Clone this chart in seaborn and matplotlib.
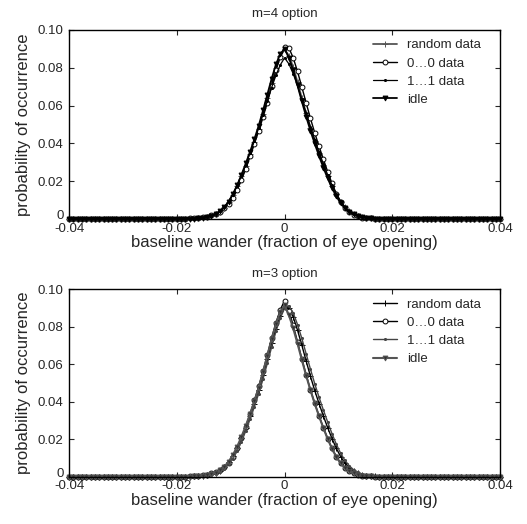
import numpy as np
import pandas as pd
import seaborn as sns
import matplotlib.pyplot as plt
import matplotlib.transforms as mtransforms

# bin centres of the baseline wander histogram
wander = np.round(np.linspace(-0.04, 0.04, 101), 4)

series_names = ["random data", "0\u20260 data", "1\u20261 data", "idle"]
x_ticks = [-0.04, -0.02, 0, 0.02, 0.04]
x_tick_labels = ["-0.04", "-0.02", "0", "0.02", "0.04"]
y_ticks = [0, 0.02, 0.04, 0.06, 0.08, 0.10]
y_tick_labels = ["0", "0.02", "0.04", "0.06", "0.08", "0.10"]

# m=4 option
m4_random = [
    0, 0, 0, 0, 0, 0, 0, 0, 0, 0, 0, 0, 0, 0, 0, 0, 0, 0, 0, 0, 0, 0, 0, 0, 0, 0, 0, 0,
    .0001, .0002, .0004, .0006, .0010, .0016, .0025, .0039, .0060, .0089, .0127,
    .0173, .0225, .0282, .0343, .0408, .0478, .0555, .0638, .0721, .0799, .0860,
    .0897,
    .0864, .0802, .0724, .0640, .0558, .0482, .0412, .0347, .0286, .0228, .0176,
    .0130, .0091, .0062, .0041, .0027, .0016, .0010, .0006, .0004, .0002, .0001,
    0, 0, 0, 0, 0, 0, 0, 0, 0, 0, 0, 0, 0, 0, 0, 0, 0, 0, 0, 0, 0, 0, 0, 0, 0, 0, 0, 0]
m4_zeros = [
    0, 0, 0, 0, 0, 0, 0, 0, 0, 0, 0, 0, 0, 0, 0, 0, 0, 0, 0, 0, 0, 0, 0, 0, 0, 0, 0, 0,
    .0003, .0004, .0006, .0009, .0013, .0019, .0027, .0039, .0056, .0080, .0112,
    .0154, .0206, .0266, .0331, .0398, .0466, .0538, .0616, .0702, .0786, .0858,
    .0910,
    .0905, .0852, .0780, .0698, .0614, .0532, .0455, .0384, .0316, .0250, .0188,
    .0134, .0092, .0060, .0038, .0023, .0014, .0008, .0005, .0003, .0002, .0001,
    0, 0, 0, 0, 0, 0, 0, 0, 0, 0, 0, 0, 0, 0, 0, 0, 0, 0, 0, 0, 0, 0, 0, 0, 0, 0, 0, 0]
m4_ones = [
    0, 0, 0, 0, 0, 0, 0, 0, 0, 0, 0, 0, 0, 0, 0, 0, 0, 0, 0, 0, 0, 0, 0, 0, 0, 0, 0, 0,
    .0001, .0002, .0004, .0006, .0010, .0016, .0026, .0041, .0062, .0092, .0131,
    .0178, .0231, .0288, .0350, .0414, .0482, .0552, .0624, .0695, .0760, .0815,
    .0852,
    .0820, .0768, .0704, .0632, .0560, .0488, .0420, .0354, .0292, .0234, .0180,
    .0133, .0094, .0064, .0042, .0027, .0017, .0011, .0007, .0004, .0002, .0001,
    0, 0, 0, 0, 0, 0, 0, 0, 0, 0, 0, 0, 0, 0, 0, 0, 0, 0, 0, 0, 0, 0, 0, 0, 0, 0, 0, 0]
m4_idle = [
    0, 0, 0, 0, 0, 0, 0, 0, 0, 0, 0, 0, 0, 0, 0, 0, 0, 0, 0, 0, 0, 0, 0, 0, 0, 0, 0, 0,
    .0001, .0002, .0004, .0006, .0010, .0016, .0026, .0040, .0062, .0092, .0131,
    .0179, .0234, .0294, .0356, .0422, .0494, .0574, .0658, .0742, .0818, .0872,
    .0900,
    .0852, .0786, .0706, .0622, .0542, .0467, .0398, .0333, .0272, .0215, .0164,
    .0120, .0084, .0057, .0037, .0024, .0015, .0009, .0005, .0003, .0002, .0001,
    0, 0, 0, 0, 0, 0, 0, 0, 0, 0, 0, 0, 0, 0, 0, 0, 0, 0, 0, 0, 0, 0, 0, 0, 0, 0, 0, 0]

# m=3 option
m3_random = [
    0, 0, 0, 0, 0, 0, 0, 0, 0, 0, 0, 0, 0, 0, 0, 0, 0, 0, 0, 0, 0, 0, 0, 0, 0, 0, 0, 0,
    .0001, .0002, .0003, .0005, .0008, .0013, .0021, .0033, .0051, .0077, .0111,
    .0154, .0205, .0262, .0324, .0390, .0462, .0541, .0626, .0712, .0790, .0858,
    .0905,
    .0900, .0852, .0782, .0702, .0618, .0536, .0460, .0390, .0324, .0262, .0204,
    .0152, .0108, .0074, .0049, .0032, .0020, .0012, .0007, .0004, .0002, .0001,
    0, 0, 0, 0, 0, 0, 0, 0, 0, 0, 0, 0, 0, 0, 0, 0, 0, 0, 0, 0, 0, 0, 0, 0, 0, 0, 0, 0]
m3_zeros = [
    0, 0, 0, 0, 0, 0, 0, 0, 0, 0, 0, 0, 0, 0, 0, 0, 0, 0, 0, 0, 0, 0, 0, 0, 0, 0, 0, 0,
    .0002, .0003, .0005, .0008, .0012, .0018, .0026, .0037, .0053, .0076, .0108,
    .0152, .0206, .0268, .0336, .0408, .0482, .0563, .0650, .0740, .0822, .0890,
    .0940,
    .0885, .0808, .0720, .0630, .0544, .0464, .0392, .0324, .0262, .0204, .0152,
    .0108, .0074, .0049, .0032, .0020, .0012, .0007, .0004, .0002, .0001, .0001,
    0, 0, 0, 0, 0, 0, 0, 0, 0, 0, 0, 0, 0, 0, 0, 0, 0, 0, 0, 0, 0, 0, 0, 0, 0, 0, 0, 0]
m3_ones = [
    0, 0, 0, 0, 0, 0, 0, 0, 0, 0, 0, 0, 0, 0, 0, 0, 0, 0, 0, 0, 0, 0, 0, 0, 0, 0, 0, 0,
    .0001, .0001, .0002, .0004, .0006, .0010, .0017, .0027, .0043, .0066, .0097,
    .0138, .0188, .0245, .0308, .0374, .0444, .0521, .0605, .0692, .0775, .0846,
    .0898,
    .0912, .0874, .0812, .0738, .0656, .0574, .0496, .0424, .0356, .0292, .0230,
    .0174, .0126, .0088, .0059, .0038, .0024, .0015, .0009, .0005, .0003, .0001,
    0, 0, 0, 0, 0, 0, 0, 0, 0, 0, 0, 0, 0, 0, 0, 0, 0, 0, 0, 0, 0, 0, 0, 0, 0, 0, 0, 0]
m3_idle = [
    0, 0, 0, 0, 0, 0, 0, 0, 0, 0, 0, 0, 0, 0, 0, 0, 0, 0, 0, 0, 0, 0, 0, 0, 0, 0, 0, 0,
    .0001, .0002, .0003, .0005, .0009, .0014, .0022, .0035, .0054, .0080, .0116,
    .0161, .0214, .0272, .0336, .0403, .0476, .0558, .0646, .0735, .0815, .0880,
    .0915,
    .0862, .0792, .0710, .0624, .0540, .0462, .0390, .0323, .0260, .0202, .0150,
    .0106, .0072, .0048, .0031, .0020, .0012, .0007, .0004, .0002, .0001, .0001,
    0, 0, 0, 0, 0, 0, 0, 0, 0, 0, 0, 0, 0, 0, 0, 0, 0, 0, 0, 0, 0, 0, 0, 0, 0, 0, 0, 0]

sns.set_style("ticks")
plt.rcParams['font.family'] = ['Liberation Sans', 'DejaVu Sans']

# marker / colour for each series, per panel
styles_m4 = [
    dict(color='#555555', marker='+', ms=4, mfc='#555555', lw=1.3),
    dict(color='black', marker='o', ms=3.5, mfc='white', lw=1.0),
    dict(color='black', marker='.', ms=3, mfc='black', lw=0.9),
    dict(color='black', marker='v', ms=3.5, mfc='black', lw=1.3),
]
styles_m3 = [
    dict(color='black', marker='+', ms=4, mfc='black', lw=1.0),
    dict(color='black', marker='o', ms=3.5, mfc='white', lw=1.0),
    dict(color='#444444', marker='.', ms=3, mfc='#444444', lw=1.0),
    dict(color='#555555', marker='v', ms=3.5, mfc='#333333', lw=1.5),
]


def draw_panel(ax, values, styles, title):
    for name, vals, st in zip(series_names, values, styles):
        df = pd.DataFrame({'wander': wander, 'prob': vals})
        sns.lineplot(data=df, x='wander', y='prob', ax=ax, label=name,
                     color=st['color'], marker=st['marker'], markersize=st['ms'],
                     markerfacecolor=st['mfc'], markeredgecolor=st['color'],
                     markeredgewidth=0.7, linewidth=st['lw'], clip_on=False)
    ax.set_xlim(-0.04, 0.04)
    ax.set_ylim(0, 0.1)
    ax.set_xticks(x_ticks)
    ax.set_xticklabels(x_tick_labels)
    ax.set_yticks(y_ticks)
    ax.set_yticklabels(y_tick_labels)
    ax.tick_params(direction='in', top=True, right=True, length=3.5,
                   width=0.8, labelsize=9.5)
    ax.tick_params(axis='x', pad=2.5)
    ax.tick_params(axis='y', pad=4)
    # lift the "0" y label a little so it clears the x tick labels
    zero_lab = ax.get_yticklabels()[0]
    zero_lab.set_transform(zero_lab.get_transform() +
                           mtransforms.ScaledTranslation(0, 3 / 72, ax.figure.dpi_scale_trans))
    for sp in ax.spines.values():
        sp.set_linewidth(1.0)
        sp.set_color('black')
    ax.set_xlabel('baseline wander (fraction of eye opening)', fontsize=12, labelpad=0.5)
    ax.set_ylabel('probability of occurrence', fontsize=12, labelpad=5)
    ax.set_title(title, fontsize=9.5, pad=9)
    ax.legend(loc='upper right', frameon=False, fontsize=9.5, handlelength=1.8,
              handletextpad=0.75, labelspacing=0.45, borderaxespad=0.3,
              bbox_to_anchor=(0.977, 1.0))


fig = plt.figure(figsize=(5.27, 5.24), dpi=100)
ax_top = fig.add_axes([0.131, 0.582, 0.818, 0.361])
ax_bot = fig.add_axes([0.131, 0.090, 0.818, 0.358])

draw_panel(ax_top, [m4_random, m4_zeros, m4_ones, m4_idle], styles_m4, 'm=4 option')
draw_panel(ax_bot, [m3_random, m3_zeros, m3_ones, m3_idle], styles_m3, 'm=3 option')

fig.savefig('out.png', dpi=100)
